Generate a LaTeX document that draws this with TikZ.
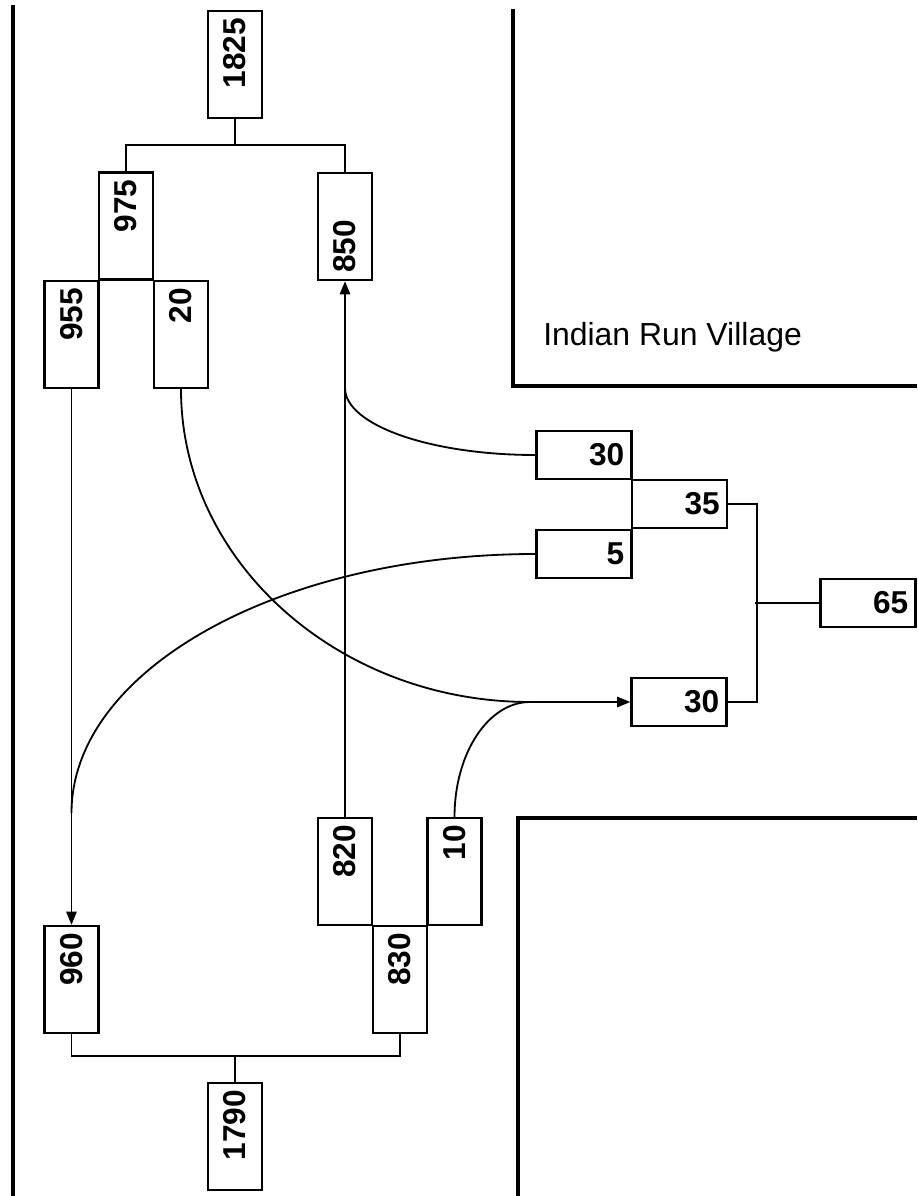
\documentclass[tikz,border=0pt]{standalone}
\usepackage{fontspec}
\setmainfont{Liberation Sans}
\usetikzlibrary{positioning, arrows.meta}

\begin{document}
\begin{tikzpicture}[
        x=0.025cm, y=0.025cm,
        cell/.style={rectangle, draw, line width=1.7pt, inner xsep=0.18cm, inner ysep=0pt,
          align=right, font=\fontsize{22.5}{24}\selectfont\bfseries},
        vcell/.style={cell, rotate=90, minimum width=2.675cm, minimum height=1.35cm, text width=2.315cm},
        hcell/.style={cell, minimum width=2.375cm, minimum height=1.2cm, text width=2.015cm},
        road/.style={line width=2.8pt},
        link/.style={line width=1.3pt},
        >={Triangle[length=0.33cm,width=0.26cm]}]

        \useasboundingbox (0,0) rectangle (917,-1196);

        % roads
        \draw[road] (13,-5) -- (13,-1196);
        \draw[road] (513,-9) -- (513,-386) -- (917,-386);
        \draw[road] (917,-818) -- (518,-818) -- (518,-1196);
        \node[anchor=base west, inner sep=0pt, font=\fontsize{22.7}{24}\selectfont] (village) at (543,-345) {Indian Run Village};

        % main road, upstream
        \node[vcell]             (n1825) at (235,-64.5)   {1825};
        \node[vcell]             (n975)  at (126,-226)    {975};
        \node[vcell, align=left] (n850)  at (345,-226.5)  {850};
        \node[vcell]             (n955)  at (71.5,-334.5) {955};
        \node[vcell]             (n20)   at (181,-334.5)  {20};

        % main road, downstream
        \node[vcell] (n820)  at (345,-871.5)   {820};
        \node[vcell] (n10)   at (454.5,-871.5) {10};
        \node[vcell] (n960)  at (71.5,-979.5)  {960};
        \node[vcell] (n830)  at (400,-979.5)   {830};
        \node[vcell] (n1790) at (235,-1136.5)  {1790};

        % side road
        \node[hcell] (n30a) at (584,-455)   {30};
        \node[hcell] (n35)  at (679.5,-504) {35};
        \node[hcell] (n5)   at (584,-554)   {5};
        \node[hcell] (n30b) at (679,-702)   {30};
        \node[hcell] (n65)  at (868,-603)   {65};

        \coordinate (j30)  at (530,-702);
        \coordinate (j850) at (345,-388);
        \coordinate (j960) at (71.5,-813);

        % splits and merges
        \draw[link] (n1825.west) -- ++(0,-26) -| (n975.east);
        \draw[link] (n1825.west) -- ++(0,-26) -| (n850.east);
        \draw[link] (n960.west) -- ++(0,-22) -| (n830.west);
        \draw[link] (n1790.east) -- ++(0,26);
        \draw[link] (n35.east) -- ++(29,0) |- (n30b.east);
        \draw[link] (n65.west) -- ++(-64,0);

        % turning movements
        \draw[link,->] (n955.west) -- (n960.east);
        \draw[link,->] (n820.east) -- (n850.west);
        \draw[link,->] (n20.west) .. controls +(0,-172) and +(-192,0) .. (j30) -- (n30b.west);
        \draw[link] (n10.east) .. controls +(0,63) and +(-42,0) .. (j30);
        \draw[link] (n30a.west) .. controls +(-105,0) and +(0,-37) .. (j850);
        \draw[link] (n5.west) .. controls +(-256,0) and +(0,143) .. (j960);
\end{tikzpicture}
\end{document}
